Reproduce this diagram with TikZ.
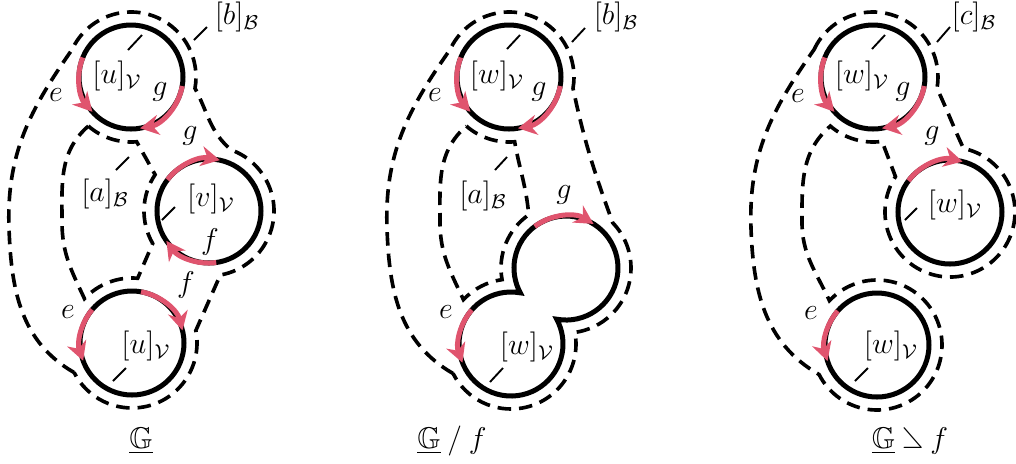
\documentclass[tikz,border=0pt]{standalone}
\usepackage{amssymb}
\usepackage{graphicx}
\usetikzlibrary{arrows.meta,calc}
\definecolor{arcred}{RGB}{224,84,110}
\begin{document}
\begin{tikzpicture}[x=0.4pt,y=0.4pt,
  vtx/.style={circle,draw,line width=2pt,minimum size=41.6pt,inner sep=0pt,outer sep=0pt},
  face/.style={dash pattern=on 5.4pt off 3.2pt,line width=1.45pt,line join=miter},
  harc/.style={arcred,line width=2pt,-{Stealth[length=7.5pt,width=8pt,inset=2.4pt]}},
  tickln/.style={line width=0.75pt},
  lbl/.style={inner sep=0pt,font=\fontsize{12}{14}\selectfont},
]
\useasboundingbox (0,0) rectangle (1016,-463);

% ---------------- Panel 1 ----------------
\coordinate (T1) at (131,-77);
\coordinate (M1) at (209,-211);
\coordinate (B1) at (132,-343);
% face b
\draw[face] ($(B1)+(-153:65)$) to[out=150,in=-88] (9,-228) to[out=92,in=235] ($(T1)+(155:65)$)
  arc[start angle=155,end angle=-10,radius=65]
  to[out=-62,in=140] ($(M1)+(70:65)$)
  arc[start angle=70,end angle=-80,radius=65]
  -- ($(B1)+(11:65)$)
  arc[start angle=11,end angle=-153,radius=65];
% face a
\draw[face] ($(T1)+(229:65)$) arc[start angle=229,end angle=275,radius=65]
  -- ($(M1)+(146:65)$)
  arc[start angle=146,end angle=210,radius=65]
  -- ($(B1)+(85:65)$)
  arc[start angle=85,end angle=137,radius=65]
  to[out=115,in=-90] (62,-222) to[out=90,in=221] ($(T1)+(229:65)$);
\node[vtx] (t1) at (T1) {};
\node[vtx] (m1) at (M1) {};
\node[vtx] (b1) at (B1) {};
\draw[harc] ($(T1)+(158:52)$) arc[start angle=158,end angle=222,radius=52];
\draw[harc] ($(T1)+(-10:52)$) arc[start angle=-10,end angle=-80,radius=52];
\draw[harc] ($(M1)+(143:52)$) arc[start angle=143,end angle=78,radius=52];
\draw[harc] ($(M1)+(-82:52)$) arc[start angle=-82,end angle=-145,radius=52];
\draw[harc] ($(B1)+(140:52)$) arc[start angle=140,end angle=200,radius=52];
\draw[harc] ($(B1)+(80:52)$) arc[start angle=80,end angle=14,radius=52];
\node[lbl] (lb1) at (237,-17) {$[b]_{\mathcal{B}}$};
\draw[tickln] (194,-40) -- (207,-27);
\node[lbl] (lt1) at (117,-76) {$[u]_{\mathcal{V}}$};
\draw[tickln] (128,-50) -- (142,-35);
\node[lbl] (le1) at (56,-95) {$e$};
\node[lbl] (lg1) at (160,-92) {$g$};
\node[lbl] (lg2) at (190,-136) {$g$};
\node[lbl] (la1) at (105,-194) {$[a]_{\mathcal{B}}$};
\draw[tickln] (116,-170) -- (129,-157);
\node[lbl] (lm1) at (211,-199) {$[v]_{\mathcal{V}}$};
\draw[tickln] (162,-220) -- (175,-207);
\node[lbl] (lf1) at (210,-242) {$f$};
\node[lbl] (lf2) at (186,-285) {$f$};
\node[lbl] (le2) at (68,-312) {$e$};
\node[lbl] (lu2) at (146,-346) {$[u]_{\mathcal{V}}$};
\draw[tickln] (113,-381) -- (126,-368);
\node[lbl] (cap1) at (141,-441) {$\underline{\mathbb{G}}$};

% ---------------- Panel 2 ----------------
\coordinate (T2) at (509,-77);
\coordinate (U2) at (566,-268);
\coordinate (B2) at (511,-344);
% face b
\draw[face] ($(B2)+(-153:65)$) to[out=150,in=-88] (387,-228) to[out=92,in=235] ($(T2)+(155:65)$)
  arc[start angle=155,end angle=-10,radius=65]
  to[out=-78,in=110] ($(U2)+(44:65)$)
  arc[start angle=44,end angle=-82.1,radius=65]
  arc[start angle=10.3,end angle=-153,radius=65];
% face a
\draw[face] ($(T2)+(229:65)$) arc[start angle=229,end angle=275,radius=65]
  to[out=-80,in=95] ($(U2)+(125:65)$)
  arc[start angle=125,end angle=190.3,radius=65]
  arc[start angle=97.9,end angle=137,radius=65]
  to[out=115,in=-90] (440,-222) to[out=90,in=221] ($(T2)+(229:65)$);
\node[vtx] (t2) at (T2) {};
\draw[line width=2pt] ($(B2)+(79.7:52)$) arc[start angle=79.7,end angle=388.5,radius=52]
  arc[start angle=259.7,end angle=568.5,radius=52] -- cycle;
\draw[harc] ($(T2)+(158:52)$) arc[start angle=158,end angle=222,radius=52];
\draw[harc] ($(T2)+(-10:52)$) arc[start angle=-10,end angle=-80,radius=52];
\draw[harc] ($(U2)+(127:52)$) arc[start angle=127,end angle=58,radius=52];
\draw[harc] ($(B2)+(139:52)$) arc[start angle=139,end angle=201,radius=52];
\node[lbl] (lb2) at (616,-17) {$[b]_{\mathcal{B}}$};
\draw[tickln] (572,-42) -- (585,-28);
\node[lbl] (lt2) at (497,-76) {$[w]_{\mathcal{V}}$};
\draw[tickln] (507,-49) -- (520,-35);
\node[lbl] (le3) at (435,-95) {$e$};
\node[lbl] (lg3) at (539,-92) {$g$};
\node[lbl] (la2) at (483,-196) {$[a]_{\mathcal{B}}$};
\draw[tickln] (495,-170) -- (507,-157);
\node[lbl] (lg4) at (564,-195) {$g$};
\node[lbl] (le4) at (446,-312) {$e$};
\node[lbl] (lw2) at (527,-347) {$[w]_{\mathcal{V}}$};
\draw[tickln] (490,-382) -- (503,-368);
\node[lbl] (cap2) at (452,-441) {$\underline{\mathbb{G}}\mathbin{/}f$};

% ---------------- Panel 3 ----------------
\coordinate (T3) at (873,-77);
\coordinate (M3) at (950,-212);
\coordinate (B3) at (877,-345);
\draw[face] ($(T3)+(155:65)$) arc[start angle=155,end angle=-10,radius=65]
  to[out=-65,in=115] ($(M3)+(78:65)$)
  arc[start angle=78,end angle=-213,radius=65]
  -- ($(T3)+(278:65)$)
  arc[start angle=278,end angle=229,radius=65]
  to[out=221,in=90] (802,-222) to[out=-90,in=115] ($(B3)+(137:65)$)
  arc[start angle=137,end angle=-153,radius=65]
  to[out=150,in=-88] (751,-228) to[out=92,in=235] ($(T3)+(155:65)$);
\node[vtx] (t3) at (T3) {};
\node[vtx] (m3) at (M3) {};
\node[vtx] (b3) at (B3) {};
\draw[harc] ($(T3)+(158:52)$) arc[start angle=158,end angle=222,radius=52];
\draw[harc] ($(T3)+(-10:52)$) arc[start angle=-10,end angle=-80,radius=52];
\draw[harc] ($(M3)+(143:52)$) arc[start angle=143,end angle=76,radius=52];
\draw[harc] ($(B3)+(139:52)$) arc[start angle=139,end angle=198,radius=52];
\node[lbl] (lc3) at (974,-17) {$[c]_{\mathcal{B}}$};
\draw[tickln] (937,-42) -- (950,-27);
\node[lbl] (lt3) at (862,-76) {$[w]_{\mathcal{V}}$};
\draw[tickln] (872,-49) -- (885,-35);
\node[lbl] (le5) at (798,-96) {$e$};
\node[lbl] (lg5) at (903,-92) {$g$};
\node[lbl] (lg6) at (932,-136) {$g$};
\node[lbl] (lm3) at (955,-205) {$[w]_{\mathcal{V}}$};
\draw[tickln] (905,-220) -- (917,-208);
\node[lbl] (le6) at (811,-313) {$e$};
\node[lbl] (lw3) at (891,-346) {$[w]_{\mathcal{V}}$};
\draw[tickln] (855,-381) -- (868,-368);
\node[lbl] (cap3) at (910,-441) {$\underline{\mathbb{G}}\mathbin{\reflectbox{$\angle$}}f$};
\end{tikzpicture}
\end{document}
